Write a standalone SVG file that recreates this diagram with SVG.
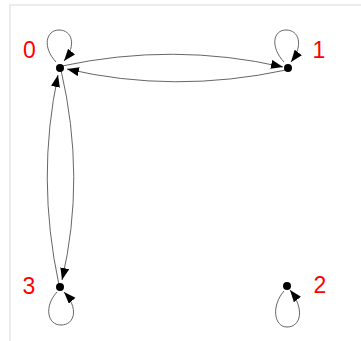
<svg xmlns="http://www.w3.org/2000/svg" width="361" height="341" viewBox="0 0 361 341">
<style>
.frame{stroke:#e6e6e6;stroke-width:1.5;fill:none}
.edge{fill:none;stroke:#666;stroke-width:1}
.node{fill:#000}
.lbl{font-family:"Liberation Sans",Arial,sans-serif;font-size:23px;fill:#ff0000;text-anchor:middle}
</style>
<defs>
<marker id="arr" markerUnits="userSpaceOnUse" markerWidth="14" markerHeight="10" refX="12" refY="4.5" orient="auto">
<path d="M0,0 L12,4.5 L0,9 Z" fill="#000"/>
</marker>
</defs>
<path class="frame" d="M10,341 L10,5 L361,5"/>
<g id="edges">
<path class="edge" marker-end="url(#arr)" d="M62,66 Q174,42 283,67"/>
<path class="edge" marker-end="url(#arr)" d="M286,70 Q174,94 67,69"/>
<path class="edge" marker-end="url(#arr)" d="M59,285 Q36,178 58,75"/>
<path class="edge" marker-end="url(#arr)" d="M61,70 Q86,178 62,280"/>
<path class="edge" marker-end="url(#arr)" d="M56,62 C42,47 46,30 59,30 C72,30 77,45 64,61"/>
<path class="edge" marker-end="url(#arr)" d="M284,62 C270,47 273,30 286,30 C299,30 304,45 291,62"/>
<path class="edge" marker-end="url(#arr)" d="M57,292 C44,306 47,325 61,325 C75,325 79,308 64,292"/>
<path class="edge" marker-end="url(#arr)" d="M284,291 C271,306 274,327 287,327 C301,327 305,309 290,290"/>
</g>
<g id="node0"><circle class="node" cx="60" cy="68" r="4"/><text class="lbl" x="29.5" y="58">0</text></g>
<g id="node1"><circle class="node" cx="288" cy="68" r="4"/><text class="lbl" x="319" y="58">1</text></g>
<g id="node2"><circle class="node" cx="287" cy="286" r="4"/><text class="lbl" x="320" y="293">2</text></g>
<g id="node3"><circle class="node" cx="60" cy="287" r="4"/><text class="lbl" x="29" y="294">3</text></g>
</svg>
